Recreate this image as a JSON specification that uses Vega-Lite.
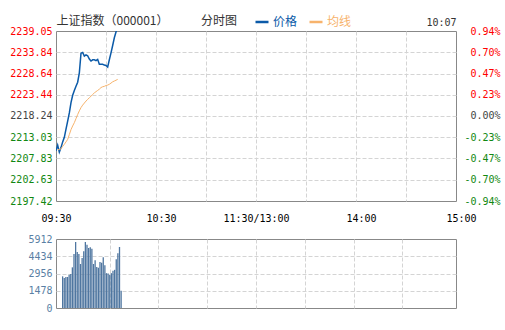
{
  "$schema": "https://vega.github.io/schema/vega-lite/v6.json",
  "padding": 0,
  "background": "white",
  "spacing": 0,
  "config": {
    "view": {"stroke": "#888888", "strokeWidth": 1},
    "font": "Noto Sans CJK SC"
  },
  "resolve": {"scale": {"color": "independent"}},
  "datasets": {
    "price": [
      {"m": 0, "series": "价格", "value": 2209.7},
      {"m": 1, "series": "价格", "value": 2211.1},
      {"m": 2, "series": "价格", "value": 2209.4},
      {"m": 3, "series": "价格", "value": 2210.5},
      {"m": 4, "series": "价格", "value": 2211.9},
      {"m": 5, "series": "价格", "value": 2213.0},
      {"m": 6, "series": "价格", "value": 2215.0},
      {"m": 7, "series": "价格", "value": 2217.0},
      {"m": 8, "series": "价格", "value": 2219.0},
      {"m": 9, "series": "价格", "value": 2221.5},
      {"m": 10, "series": "价格", "value": 2223.3},
      {"m": 11, "series": "价格", "value": 2224.5},
      {"m": 12, "series": "价格", "value": 2225.5},
      {"m": 13, "series": "价格", "value": 2226.5},
      {"m": 14, "series": "价格", "value": 2228.8},
      {"m": 15, "series": "价格", "value": 2233.6},
      {"m": 16, "series": "价格", "value": 2233.8},
      {"m": 17, "series": "价格", "value": 2232.9},
      {"m": 18, "series": "价格", "value": 2233.2},
      {"m": 19, "series": "价格", "value": 2233.0},
      {"m": 20, "series": "价格", "value": 2232.2},
      {"m": 21, "series": "价格", "value": 2231.7},
      {"m": 22, "series": "价格", "value": 2232.0},
      {"m": 23, "series": "价格", "value": 2232.0},
      {"m": 24, "series": "价格", "value": 2231.8},
      {"m": 25, "series": "价格", "value": 2232.1},
      {"m": 26, "series": "价格", "value": 2230.9},
      {"m": 27, "series": "价格", "value": 2230.9},
      {"m": 28, "series": "价格", "value": 2230.9},
      {"m": 29, "series": "价格", "value": 2230.7},
      {"m": 30, "series": "价格", "value": 2230.6},
      {"m": 31, "series": "价格", "value": 2230.2},
      {"m": 32, "series": "价格", "value": 2232.0},
      {"m": 33, "series": "价格", "value": 2233.7},
      {"m": 34, "series": "价格", "value": 2235.5},
      {"m": 35, "series": "价格", "value": 2237.4},
      {"m": 36, "series": "价格", "value": 2238.8},
      {"m": 37, "series": "价格", "value": 2240.0}
    ],
    "avg": [
      {"m": 1, "series": "均线", "value": 2210.0},
      {"m": 2, "series": "均线", "value": 2210.0},
      {"m": 3, "series": "均线", "value": 2210.2},
      {"m": 4, "series": "均线", "value": 2210.8},
      {"m": 5, "series": "均线", "value": 2211.3},
      {"m": 6, "series": "均线", "value": 2211.9},
      {"m": 7, "series": "均线", "value": 2212.5},
      {"m": 8, "series": "均线", "value": 2213.7},
      {"m": 9, "series": "均线", "value": 2214.9},
      {"m": 10, "series": "均线", "value": 2215.8},
      {"m": 11, "series": "均线", "value": 2216.6},
      {"m": 12, "series": "均线", "value": 2217.6},
      {"m": 13, "series": "均线", "value": 2218.6},
      {"m": 14, "series": "均线", "value": 2219.5},
      {"m": 15, "series": "均线", "value": 2220.3},
      {"m": 16, "series": "均线", "value": 2220.9},
      {"m": 17, "series": "均线", "value": 2221.4},
      {"m": 18, "series": "均线", "value": 2221.9},
      {"m": 19, "series": "均线", "value": 2222.3},
      {"m": 20, "series": "均线", "value": 2222.7},
      {"m": 21, "series": "均线", "value": 2223.1},
      {"m": 22, "series": "均线", "value": 2223.5},
      {"m": 23, "series": "均线", "value": 2223.9},
      {"m": 24, "series": "均线", "value": 2224.2},
      {"m": 25, "series": "均线", "value": 2224.5},
      {"m": 26, "series": "均线", "value": 2224.8},
      {"m": 27, "series": "均线", "value": 2225.2},
      {"m": 28, "series": "均线", "value": 2225.4},
      {"m": 29, "series": "均线", "value": 2225.5},
      {"m": 30, "series": "均线", "value": 2225.7},
      {"m": 31, "series": "均线", "value": 2225.8},
      {"m": 32, "series": "均线", "value": 2226.0},
      {"m": 33, "series": "均线", "value": 2226.3},
      {"m": 34, "series": "均线", "value": 2226.6},
      {"m": 35, "series": "均线", "value": 2226.8},
      {"m": 36, "series": "均线", "value": 2227.0},
      {"m": 37, "series": "均线", "value": 2227.2}
    ],
    "vol": [
      {"m": 1, "vol": 2713}, {"m": 2, "vol": 2570}, {"m": 3, "vol": 2656}, {"m": 4, "vol": 2656},
      {"m": 5, "vol": 2856}, {"m": 6, "vol": 2913}, {"m": 7, "vol": 3484}, {"m": 8, "vol": 4627},
      {"m": 9, "vol": 5655}, {"m": 10, "vol": 4798}, {"m": 11, "vol": 4627}, {"m": 12, "vol": 3770},
      {"m": 13, "vol": 4284}, {"m": 14, "vol": 4855}, {"m": 15, "vol": 5655}, {"m": 16, "vol": 5426},
      {"m": 17, "vol": 5141}, {"m": 18, "vol": 5198}, {"m": 19, "vol": 5084}, {"m": 20, "vol": 3770},
      {"m": 21, "vol": 4100}, {"m": 22, "vol": 3510}, {"m": 23, "vol": 3450}, {"m": 24, "vol": 3950},
      {"m": 25, "vol": 3880}, {"m": 26, "vol": 4341}, {"m": 27, "vol": 3670}, {"m": 28, "vol": 2985},
      {"m": 29, "vol": 2955}, {"m": 30, "vol": 2856}, {"m": 31, "vol": 2985}, {"m": 32, "vol": 3200},
      {"m": 33, "vol": 3270}, {"m": 34, "vol": 4170}, {"m": 35, "vol": 4700}, {"m": 36, "vol": 5226},
      {"m": 37, "vol": 1485}
    ]
  },
  "vconcat": [
    {
      "width": 400,
      "height": 170,
      "resolve": {"axis": {"x": "independent", "y": "independent"}},
      "layer": [
        {
          "data": {"name": "price"},
          "mark": {"type": "line", "strokeWidth": 1.5, "clip": true},
          "encoding": {
            "x": {
              "field": "m", "type": "quantitative",
              "scale": {"domain": [0, 240], "nice": false},
              "axis": {
                "orient": "bottom", "title": null,
                "values": [0, 30, 60, 90, 120, 150, 180, 210, 240],
                "labelExpr": "datum.value == 0 ? '09:30' : datum.value == 60 ? '10:30' : datum.value == 120 ? '11:30/13:00' : datum.value == 180 ? '14:00' : datum.value == 240 ? '15:00' : ''",
                "labelFlush": false, "labelOverlap": false,
                "labelBaseline": "top", "labelPadding": 12,
                "labelFont": "DejaVu Sans Mono", "labelFontSize": 10, "labelColor": "#000000",
                "labelOffset": {"expr": "(datum.value == 60 || datum.value >= 180) ? 5 : 0"},
                "grid": true, "gridColor": "#d4d4d4", "gridDash": [4, 2],
                "gridOpacity": {"expr": "(datum.value == 0 || datum.value == 240) ? 0 : 1"},
                "domain": false, "ticks": false, "tickSize": 0,
                "minExtent": 31, "maxExtent": 31
              }
            },
            "y": {
              "field": "value", "type": "quantitative",
              "scale": {"domain": [2197.42, 2239.05], "nice": false, "zero": false},
              "axis": {
                "orient": "left", "title": null,
                "values": [2197.42, 2202.63, 2207.83, 2213.03, 2218.24, 2223.44, 2228.64, 2233.84, 2239.05],
                "format": ".2f",
                "labelFont": "DejaVu Sans Mono", "labelFontSize": 10,
                "labelColor": {"expr": "datum.value > 2218.3 ? '#ff0000' : datum.value < 2218.2 ? '#118811' : '#444444'"},
                "labelPadding": 4, "labelOverlap": false,
                "grid": true, "gridColor": "#d4d4d4", "gridDash": [4, 2],
                "gridOpacity": {"expr": "(datum.value < 2197.5 || datum.value > 2239) ? 0 : 1"},
                "domain": false, "ticks": false, "tickSize": 0,
                "minExtent": 55, "maxExtent": 55
              }
            },
            "color": {
              "field": "series", "type": "nominal",
              "scale": {"domain": ["价格", "均线"], "range": ["#0b5aa8", "#f7b36c"]},
              "legend": {
                "orient": "none", "legendX": 198, "legendY": -17,
                "direction": "horizontal", "title": null,
                "symbolType": "stroke", "symbolSize": 169, "symbolStrokeWidth": 2.5,
                "labelFont": "Noto Sans CJK SC", "labelFontSize": 12,
                "labelOffset": 3, "columnPadding": 6, "padding": 0,
                "encode": {"labels": {"update": {"fill": {"signal": "datum.value == '价格' ? '#0b5aa8' : '#f7b36c'"}}}}
              }
            }
          }
        },
        {
          "data": {"name": "avg"},
          "mark": {"type": "line", "strokeWidth": 1, "clip": true},
          "encoding": {
            "x": {
              "field": "m", "type": "quantitative",
              "scale": {"domain": [0, 240], "nice": false},
              "axis": {
                "orient": "top", "title": null,
                "values": [0, 97.5, 240],
                "labelExpr": "datum.value == 0 ? '上证指数（000001）' : datum.value == 240 ? '10:07' : '分时图'",
                "labelAlign": {"expr": "datum.value == 0 ? 'left' : datum.value == 240 ? 'right' : 'center'"},
                "labelFont": {"expr": "datum.value == 240 ? 'DejaVu Sans Mono' : 'Noto Sans CJK SC'"},
                "labelFontSize": {"expr": "datum.value == 240 ? 10 : 12"},
                "labelColor": "#333333", "labelPadding": 4,
                "labelFlush": false, "labelOverlap": false,
                "grid": false, "domain": false, "ticks": false, "tickSize": 0,
                "minExtent": 30, "maxExtent": 30
              }
            },
            "y": {
              "field": "value", "type": "quantitative",
              "scale": {"domain": [2197.42, 2239.05], "nice": false, "zero": false},
              "axis": {
                "orient": "right", "title": null,
                "values": [2197.42, 2202.63, 2207.83, 2213.03, 2218.24, 2223.44, 2228.64, 2233.84, 2239.05],
                "labelExpr": "(datum.value < 2218.2 ? '-' : '') + format(abs(datum.value - 2218.24) / 2218.24 * 100, '.2f') + '%'",
                "labelAlign": "right", "labelPadding": 44,
                "labelFont": "DejaVu Sans Mono", "labelFontSize": 10,
                "labelColor": {"expr": "datum.value > 2218.3 ? '#ff0000' : datum.value < 2218.2 ? '#118811' : '#444444'"},
                "labelOverlap": false,
                "grid": false, "domain": false, "ticks": false, "tickSize": 0,
                "minExtent": 50, "maxExtent": 50
              }
            },
            "color": {"field": "series", "type": "nominal"}
          }
        }
      ]
    },
    {
      "width": 400,
      "height": 69,
      "data": {"name": "vol"},
      "mark": {"type": "bar", "orient": "vertical", "size": 1.3, "color": "#4f76a0"},
      "encoding": {
        "x": {
          "field": "m", "type": "quantitative",
          "scale": {"domain": [0, 240], "nice": false},
          "axis": {
            "title": null, "values": [30, 60, 90, 120, 150, 180, 210],
            "labels": false, "ticks": false, "domain": false, "tickSize": 0,
            "grid": true, "gridColor": "#d4d4d4", "gridDash": [4, 2],
            "minExtent": 0, "maxExtent": 0
          }
        },
        "y": {
          "field": "vol", "type": "quantitative",
          "scale": {"domain": [0, 5912], "nice": false},
          "axis": {
            "title": null, "values": [0, 1478, 2956, 4434, 5912],
            "format": "d",
            "labelFont": "DejaVu Sans Mono", "labelFontSize": 10, "labelColor": "#5a7fa4",
            "labelPadding": 4, "labelOverlap": false,
            "grid": true, "gridColor": "#d4d4d4", "gridDash": [4, 2],
            "gridOpacity": {"expr": "(datum.value == 0 || datum.value == 5912) ? 0 : 1"},
            "domain": false, "ticks": false, "tickSize": 0,
            "minExtent": 55, "maxExtent": 55
          }
        }
      }
    }
  ]
}
